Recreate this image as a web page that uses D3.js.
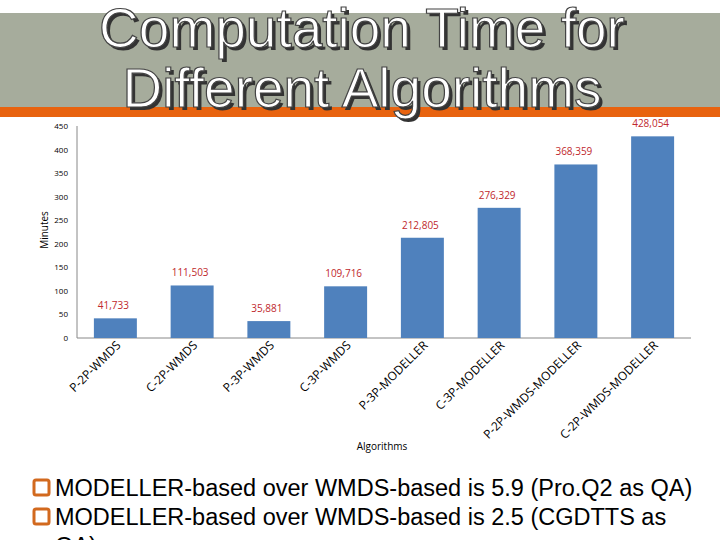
<!DOCTYPE html>
<html><head><meta charset="utf-8">
<script src="https://cdn.jsdelivr.net/npm/d3@7/dist/d3.min.js"></script>
<style>body{margin:0;background:#fff}svg{display:block}</style>
</head><body>
<script>
const algorithms = ["P-2P-WMDS","C-2P-WMDS","P-3P-WMDS","C-3P-WMDS","P-3P-MODELLER","C-3P-MODELLER","P-2P-WMDS-MODELLER","C-2P-WMDS-MODELLER"];
const minutes = [41.733,111.503,35.881,109.716,212.805,276.329,368.359,428.054];
const labels = ["41,733","111,503","35,881","109,716","212,805","276,329","368,359","428,054"];
const yTicks = [0,50,100,150,200,250,300,350,400,450];
const notes = ["MODELLER-based over WMDS-based is 5.9 (Pro.Q2 as QA)","MODELLER-based over WMDS-based is 2.5 (CGDTTS as","QA)"];

const W = 720, H = 540;
const svg = d3.select("body").append("svg").attr("width", W).attr("height", H);

// header band
svg.append("rect").attr("x",0).attr("y",13).attr("width",W).attr("height",94).attr("fill","#a6ac9c");
svg.append("rect").attr("x",0).attr("y",107).attr("width",W).attr("height",10).attr("fill","#e8630f");

const title = svg.append("g").attr("font-family","Liberation Sans, Arial").attr("font-size",55).attr("text-anchor","middle");
[["Computation Time for",47],["Different Algorithms",107]].forEach(([t,y]) => {
	title.append("text").attr("x",365).attr("y",y+3).attr("fill","#333").text(t);
	title.append("text").attr("x",362).attr("y",y).attr("fill","#fff").attr("stroke","#444").attr("stroke-width",1.2).text(t);
});

// chart
const x = d3.scaleBand().domain(algorithms).range([77, 691]).paddingInner(0.44).paddingOuter(0.22);
const y = d3.scaleLinear().domain([0,450]).range([338, 126]);

const g = svg.append("g").attr("font-family","Open Sans, sans-serif");

g.selectAll("text.tick").data(yTicks).enter().append("text")
	.attr("x",68).attr("y",d => y(d)+3).attr("text-anchor","end")
	.attr("font-size",8).attr("fill","#000").text(d => d);

g.append("line").attr("x1",77).attr("x2",77).attr("y1",126).attr("y2",338).attr("stroke","#888");
g.append("line").attr("x1",77).attr("x2",691).attr("y1",338).attr("y2",338).attr("stroke","#888");

g.selectAll("rect.bar").data(minutes).enter().append("rect")
	.attr("x",(d,i) => x(algorithms[i])).attr("width",x.bandwidth())
	.attr("y",d => y(d)).attr("height",d => 338 - y(d)).attr("fill","#4f81bd");

g.selectAll("text.val").data(minutes).enter().append("text")
	.attr("x",(d,i) => x(algorithms[i]) + x.bandwidth()/2 - 2)
	.attr("y",d => y(d) - 9).attr("text-anchor","middle")
	.attr("font-size",10).attr("fill","#c0282d").text((d,i) => labels[i]);

g.selectAll("text.cat").data(algorithms).enter().append("text")
	.attr("transform",d => `translate(${x(d)+x.bandwidth()/2+6},${346}) rotate(-45)`)
	.attr("text-anchor","end").attr("font-size",12).attr("fill","#000").text(d => d);

g.append("text").attr("transform","translate(48,230) rotate(-90)").attr("text-anchor","middle")
	.attr("font-size",10).text("Minutes");
g.append("text").attr("x",382).attr("y",450).attr("text-anchor","middle").attr("font-size",10).text("Algorithms");

// bullets
const nb = svg.append("g").attr("font-family","Liberation Sans, Arial").attr("font-size",23.5);
notes.forEach((t,i) => {
	const yy = 496 + i*29;
	if (i < 2) {
		nb.append("rect").attr("x",34).attr("y",yy-16).attr("width",15).attr("height",15).attr("rx",2)
			.attr("fill","none").attr("stroke","#d2691e").attr("stroke-width",3);
	}
	nb.append("text").attr("x",55).attr("y",yy).attr("fill","#000").text(t);
});
</script>
</body></html>
